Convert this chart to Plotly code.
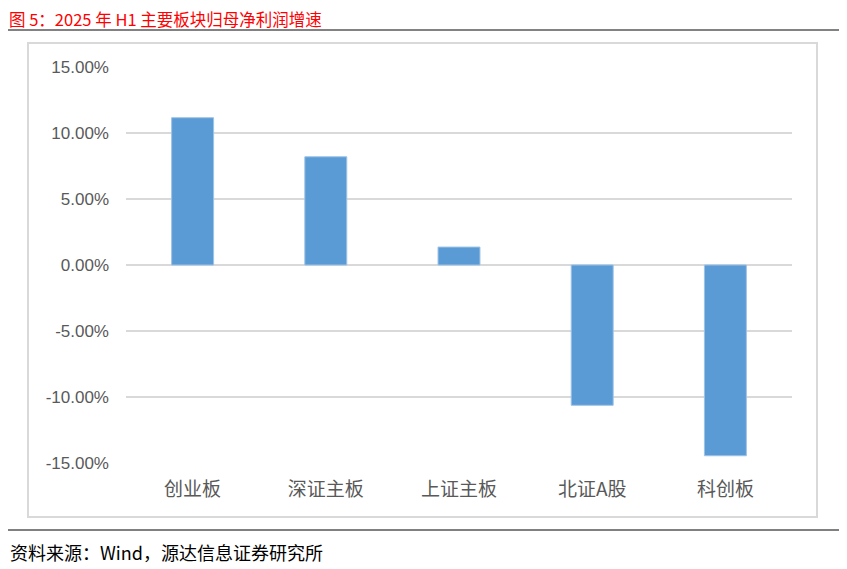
import plotly.graph_objects as go

categories = ["创业板", "深证主板", "上证主板", "北证A股", "科创板"]
growth = [0.1116, 0.0820, 0.0136, -0.1063, -0.1445]
y_ticks = [0.15, 0.10, 0.05, 0.0, -0.05, -0.10, -0.15]
y_tick_labels = ["15.00%", "10.00%", "5.00%", "0.00%", "-5.00%", "-10.00%", "-15.00%"]
title_text = "图 5：2025 年 H1 主要板块归母净利润增速"
source_text = "资料来源：Wind，源达信息证券研究所"

CJK = "Noto Sans CJK SC, Microsoft YaHei, sans-serif"

fig = go.Figure(go.Bar(
    x=categories, y=growth, width=0.315,
    marker=dict(color="#5B9BD5", line=dict(color="#9DC3E6", width=1)),
))

# page offset from the default body margin
O = 8
W, H = 847 - O, 569 - O
# plot area in page pixels: x 126..792, y 67..463
L, R, T, B = 126 - O, 847 - 792, 67 - O, 569 - 463
pw, ph = W - L - R, H - T - B


def px(x):
    return (x - O - L) / pw


def py(y):
    return (H - B - (y - O)) / ph


fig.update_layout(
    width=W, height=H,
    margin=dict(l=L, r=R, t=T, b=B, pad=0),
    paper_bgcolor="white", plot_bgcolor="white",
    showlegend=False,
    font=dict(family=CJK, color="#595959"),
    xaxis=dict(showgrid=False, showline=False, ticks="",
               tickfont=dict(size=19, color="#595959", family=CJK),
               ticklabelstandoff=13),
    yaxis=dict(range=[-0.15, 0.15], tickvals=y_ticks, ticktext=y_tick_labels,
               showgrid=True, gridcolor="#D9D9D9", gridwidth=1.5,
               zeroline=True, zerolinecolor="#D9D9D9", zerolinewidth=1.5,
               showline=False, ticks="",
               tickfont=dict(size=17, color="#595959", family="Liberation Sans, Arial"),
               ticklabelstandoff=16),
    shapes=[
        dict(type="rect", xref="paper", yref="paper",
             x0=px(28), x1=px(817), y0=py(517), y1=py(43),
             line=dict(color="#D9D9D9", width=2), fillcolor="rgba(0,0,0,0)", layer="below"),
        dict(type="line", xref="paper", yref="paper",
             x0=px(8), x1=px(847), y0=py(30), y1=py(30),
             line=dict(color="#595959", width=1.5)),
        dict(type="line", xref="paper", yref="paper",
             x0=px(8), x1=px(847), y0=py(530), y1=py(530),
             line=dict(color="#808080", width=2)),
    ],
    annotations=[
        dict(text=title_text, xref="paper", yref="paper", x=px(8), y=py(19.5),
             xanchor="left", yanchor="middle", showarrow=False, borderpad=0,
             font=dict(size=16.5, color="#FF0000", family=CJK)),
        dict(text=source_text, xref="paper", yref="paper", x=px(8), y=py(552),
             xanchor="left", yanchor="middle", showarrow=False,
             font=dict(size=18, color="#000000", family=CJK)),
    ],
)

fig.write_html("out.html")
